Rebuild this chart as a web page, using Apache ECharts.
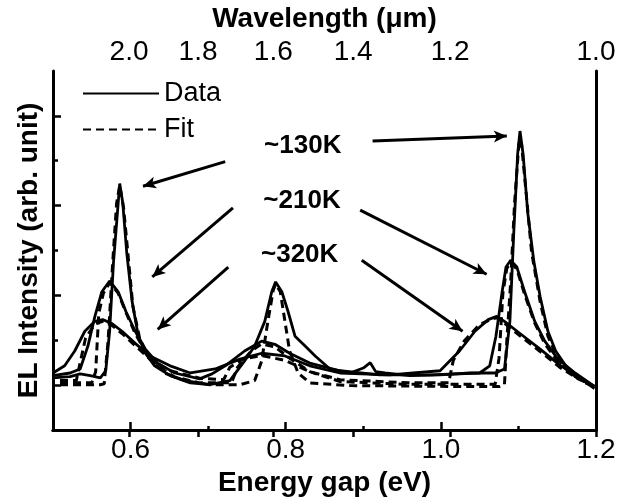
<!DOCTYPE html>
<html>
<head>
<meta charset="utf-8">
<script src="https://cdn.jsdelivr.net/npm/echarts@6/dist/echarts.min.js"></script>
<style>
  html, body { margin: 0; padding: 0; background: #fff; }
  #chart { width: 629px; height: 504px; }
</style>
</head>
<body>
<div id="chart"></div>
<script>
// energy (eV) / intensity (arb.)
const data130E = [0.500, 0.522, 0.535, 0.548, 0.561, 0.568, 0.573, 0.578, 0.584, 0.586, 0.590, 0.595, 0.602, 0.610, 0.619, 0.631, 0.651, 0.677, 0.702, 0.728, 0.747, 0.760, 0.773, 0.782, 0.787, 0.795, 0.803, 0.812, 0.825, 0.838, 0.857, 0.883, 0.900, 0.909, 0.916, 0.928, 0.960, 0.999, 1.037, 1.070, 1.082, 1.089, 1.094, 1.099, 1.102, 1.106, 1.112, 1.120, 1.128, 1.138, 1.148, 1.161, 1.179, 1.198]
const data130I = [1.16, 1.19, 1.25, 1.21, 1.16, 1.32, 2.20, 3.74, 5.05, 5.49, 5.05, 3.96, 2.86, 2.09, 1.71, 1.43, 1.21, 1.05, 1.01, 1.10, 1.54, 1.87, 2.42, 3.08, 3.30, 3.08, 2.64, 2.09, 1.87, 1.65, 1.36, 1.27, 1.38, 1.50, 1.30, 1.27, 1.21, 1.23, 1.27, 1.27, 1.36, 2.42, 4.40, 6.15, 6.66, 6.15, 4.84, 3.74, 2.97, 2.20, 1.76, 1.43, 1.16, 0.92]
const fit130E = [0.509, 0.561, 0.566, 0.571, 0.577, 0.582, 0.586, 0.591, 0.597, 0.603, 0.612, 0.625, 0.644, 0.670, 0.702, 0.741, 0.760, 0.769, 0.777, 0.784, 0.787, 0.793, 0.799, 0.805, 0.816, 0.831, 0.883, 1.012, 1.076, 1.082, 1.085, 1.090, 1.095, 1.101, 1.104, 1.110, 1.117, 1.128, 1.138, 1.151, 1.166, 1.186, 1.198]
const fit130I = [1.01, 1.01, 1.03, 1.98, 3.74, 5.05, 5.45, 4.95, 3.85, 2.75, 2.02, 1.58, 1.27, 1.10, 1.01, 1.01, 1.10, 1.54, 2.42, 3.12, 3.25, 3.08, 2.42, 1.76, 1.27, 1.05, 0.99, 0.97, 0.97, 1.01, 1.98, 3.30, 5.05, 6.48, 6.37, 5.27, 3.96, 2.86, 2.09, 1.58, 1.27, 1.05, 0.97]

const data210E = [0.500, 0.522, 0.535, 0.545, 0.554, 0.563, 0.573, 0.584, 0.594, 0.606, 0.619, 0.635, 0.657, 0.689, 0.705, 0.722, 0.747, 0.769, 0.786, 0.805, 0.831, 0.870, 0.921, 0.986, 1.050, 1.063, 1.071, 1.079, 1.084, 1.090, 1.098, 1.108, 1.121, 1.134, 1.151, 1.173, 1.198]
const data210I = [1.21, 1.27, 1.36, 1.87, 2.53, 3.08, 3.32, 3.08, 2.64, 2.20, 1.80, 1.49, 1.27, 1.14, 1.25, 1.43, 1.76, 1.98, 1.91, 1.71, 1.49, 1.32, 1.23, 1.23, 1.27, 1.43, 2.09, 3.08, 3.63, 3.78, 3.63, 3.08, 2.42, 1.98, 1.58, 1.27, 0.97]
const fit210E = [0.509, 0.550, 0.555, 0.559, 0.565, 0.573, 0.584, 0.594, 0.606, 0.619, 0.635, 0.657, 0.689, 0.730, 0.738, 0.755, 0.769, 0.786, 0.805, 0.831, 0.870, 0.950, 1.070, 1.075, 1.080, 1.085, 1.090, 1.098, 1.108, 1.121, 1.134, 1.151, 1.173, 1.198]
const fit210I = [1.05, 1.05, 1.30, 2.60, 3.05, 3.28, 3.05, 2.62, 2.15, 1.75, 1.42, 1.18, 1.05, 1.05, 1.40, 1.75, 1.92, 1.85, 1.60, 1.30, 1.08, 1.02, 1.02, 1.60, 3.05, 3.60, 3.74, 3.58, 3.02, 2.38, 1.92, 1.52, 1.20, 0.97]

const data320E = [0.500, 0.515, 0.528, 0.541, 0.554, 0.564, 0.576, 0.589, 0.606, 0.625, 0.651, 0.677, 0.709, 0.741, 0.769, 0.799, 0.831, 0.870, 0.934, 0.999, 1.024, 1.044, 1.061, 1.072, 1.082, 1.102, 1.128, 1.153, 1.176, 1.198]
const data320I = [1.27, 1.43, 1.76, 2.20, 2.42, 2.46, 2.37, 2.20, 1.93, 1.65, 1.43, 1.27, 1.36, 1.58, 1.71, 1.65, 1.43, 1.27, 1.23, 1.32, 1.76, 2.20, 2.46, 2.53, 2.42, 2.15, 1.80, 1.45, 1.19, 0.97]
const fit320E = [0.509, 0.530, 0.535, 0.542, 0.554, 0.564, 0.576, 0.589, 0.606, 0.625, 0.651, 0.690, 0.720, 0.728, 0.745, 0.769, 0.799, 0.831, 0.870, 0.960, 1.010, 1.016, 1.030, 1.050, 1.065, 1.072, 1.082, 1.102, 1.128, 1.153, 1.176, 1.198]
const fit320I = [1.10, 1.10, 1.50, 2.05, 2.36, 2.42, 2.33, 2.15, 1.88, 1.58, 1.32, 1.15, 1.12, 1.40, 1.58, 1.66, 1.55, 1.30, 1.12, 1.05, 1.05, 1.55, 1.98, 2.35, 2.47, 2.50, 2.38, 2.10, 1.75, 1.40, 1.15, 0.97]

// axis ticks
const energyLabels = [0.6, 0.8, 1.0, 1.2]
const energyMajor = [0.6, 0.8, 1.0]
const energyMinor = [0.7, 0.9, 1.1]
const wavelengthLabels = ['2.0', '1.8', '1.6', '1.4', '1.2', '1.0']
const wavelengthTickE = [0.598, 0.687, 0.784, 0.887, 1.012, 1.2] // where the top ticks sit, in eV
const intensityMajor = [1, 3, 5, 7]
const intensityMinor = [2, 4, 6]

// temperature labels and arrows [label pos, left arrow, right arrow]
const tempNames = ['~130K', '~210K', '~320K']
const tempLabelPos = [[0.822, 6.33], [0.821, 5.10], [0.818, 3.91]]
const arrowsLeft = [[[0.722, 5.98], [0.616, 5.43]], [[0.732, 4.95], [0.628, 3.41]], [[0.726, 3.63], [0.635, 2.24]]]
const arrowsRight = [[[0.912, 6.44], [1.085, 6.55]], [[0.896, 4.90], [1.059, 3.47]], [[0.898, 3.78], [1.028, 2.20]]]

const FONT = '"Liberation Sans", Arial, sans-serif'

const zip = (xs, ys) => xs.map((x, i) => [x, ys[i]])

const dataSets = [[data130E, data130I], [data210E, data210I], [data320E, data320I]]
const fitSets = [[fit130E, fit130I], [fit210E, fit210I], [fit320E, fit320I]]

const series = []
dataSets.forEach((d, k) => {
  series.push({
    name: 'Data',
    type: 'line',
    data: zip(d[0], d[1]),
    showSymbol: false,
    symbol: 'none',
    lineStyle: { color: '#000', width: 2.8 },
    itemStyle: { color: '#000' },
    z: 3,
    markLine: {
      silent: true,
      symbol: ['none', 'arrow'],
      symbolSize: [9, 13],
      label: { show: false },
      lineStyle: { color: '#000', width: 3, type: 'solid' },
      data: [
        [{ coord: arrowsLeft[k][0] }, { coord: arrowsLeft[k][1] }],
        [{ coord: arrowsRight[k][0] }, { coord: arrowsRight[k][1] }],
      ],
    },
    markPoint: {
      silent: true,
      symbol: 'rect',
      symbolSize: [1, 1],
      itemStyle: { color: 'rgba(0,0,0,0)' },
      label: {
        show: true,
        position: 'inside',
        formatter: tempNames[k],
        color: '#000',
        fontFamily: FONT,
        fontWeight: 'bold',
        fontSize: 26,
      },
      data: [{ coord: tempLabelPos[k] }],
    },
  })
})
fitSets.forEach((d) => {
  series.push({
    name: 'Fit',
    type: 'line',
    data: zip(d[0], d[1]),
    showSymbol: false,
    symbol: 'none',
    lineStyle: { color: '#000', width: 3, type: [8, 5] },
    itemStyle: { color: '#000' },
    z: 2,
  })
})

const axisLineStyle = { color: '#000', width: 3 }
const tickLabel = { color: '#000', fontFamily: FONT, fontSize: 28 }
const nameStyle = { color: '#000', fontFamily: FONT, fontSize: 28, fontWeight: 'bold' }

const chart = echarts.init(document.getElementById('chart'), null, { renderer: 'canvas' })

const option = {
  animation: false,
  backgroundColor: '#fff',
  grid: { left: 53, right: 33, top: 66, bottom: 74 },
  legend: {
    left: 77,
    top: 75,
    orient: 'vertical',
    itemWidth: 76,
    itemHeight: 27,
    itemGap: 9,
    data: ['Data', 'Fit'],
    itemStyle: { opacity: 0 },
    lineStyle: { opacity: 1 },
    textStyle: { color: '#000', fontFamily: FONT, fontSize: 27 },
    selectedMode: false,
  },
  xAxis: [
    {
      type: 'value',
      min: 0.5,
      max: 1.2,
      position: 'bottom',
      axisLine: { show: true, lineStyle: axisLineStyle },
      axisTick: { show: true, inside: true, length: 8, customValues: energyMajor, lineStyle: { color: '#000', width: 2.5 } },
      axisLabel: { show: true, customValues: energyLabels, margin: 6, formatter: (v) => v.toFixed(1), ...tickLabel },
      splitLine: { show: false },
      name: 'Energy gap (eV)',
      nameLocation: 'middle',
      nameGap: 36,
      nameTextStyle: nameStyle,
    },
    {
      type: 'value',
      min: 0.5,
      max: 1.2,
      position: 'bottom',
      axisLine: { show: false },
      axisTick: { show: true, inside: true, length: 4, customValues: energyMinor, lineStyle: { color: '#000', width: 2.5 } },
      axisLabel: { show: false },
      splitLine: { show: false },
    },
    {
      type: 'value',
      min: 0.5,
      max: 1.2,
      position: 'top',
      axisLine: { show: true, lineStyle: axisLineStyle },
      axisTick: { show: true, inside: true, length: 7, customValues: wavelengthTickE, lineStyle: { color: '#000', width: 2.5 } },
      axisLabel: {
        show: true,
        customValues: wavelengthTickE,
        margin: 5,
        formatter: (v) => {
          let best = 0
          wavelengthTickE.forEach((e, i) => {
            if (Math.abs(e - v) < Math.abs(wavelengthTickE[best] - v)) best = i
          })
          return wavelengthLabels[best]
        },
        ...tickLabel,
      },
      splitLine: { show: false },
      name: 'Wavelength (μm)',
      nameLocation: 'middle',
      nameGap: 36,
      nameTextStyle: nameStyle,
    },
  ],
  yAxis: [
    {
      type: 'value',
      min: 0,
      max: 8,
      position: 'left',
      axisLine: { show: true, lineStyle: axisLineStyle },
      axisTick: { show: true, inside: true, length: 8, customValues: intensityMajor, lineStyle: { color: '#000', width: 2.5 } },
      axisLabel: { show: false },
      splitLine: { show: false },
      name: 'EL Intensity (arb. unit)',
      nameLocation: 'middle',
      nameGap: 10,
      nameTextStyle: nameStyle,
    },
    {
      type: 'value',
      min: 0,
      max: 8,
      position: 'left',
      axisLine: { show: false },
      axisTick: { show: true, inside: true, length: 5, customValues: intensityMinor, lineStyle: { color: '#000', width: 2.5 } },
      axisLabel: { show: false },
      splitLine: { show: false },
    },
    {
      type: 'value',
      min: 0,
      max: 8,
      position: 'right',
      axisLine: { show: true, lineStyle: axisLineStyle },
      axisTick: { show: false },
      axisLabel: { show: false },
      splitLine: { show: false },
    },
  ],
  series: series,
}

chart.setOption(option)
</script>
</body>
</html>
